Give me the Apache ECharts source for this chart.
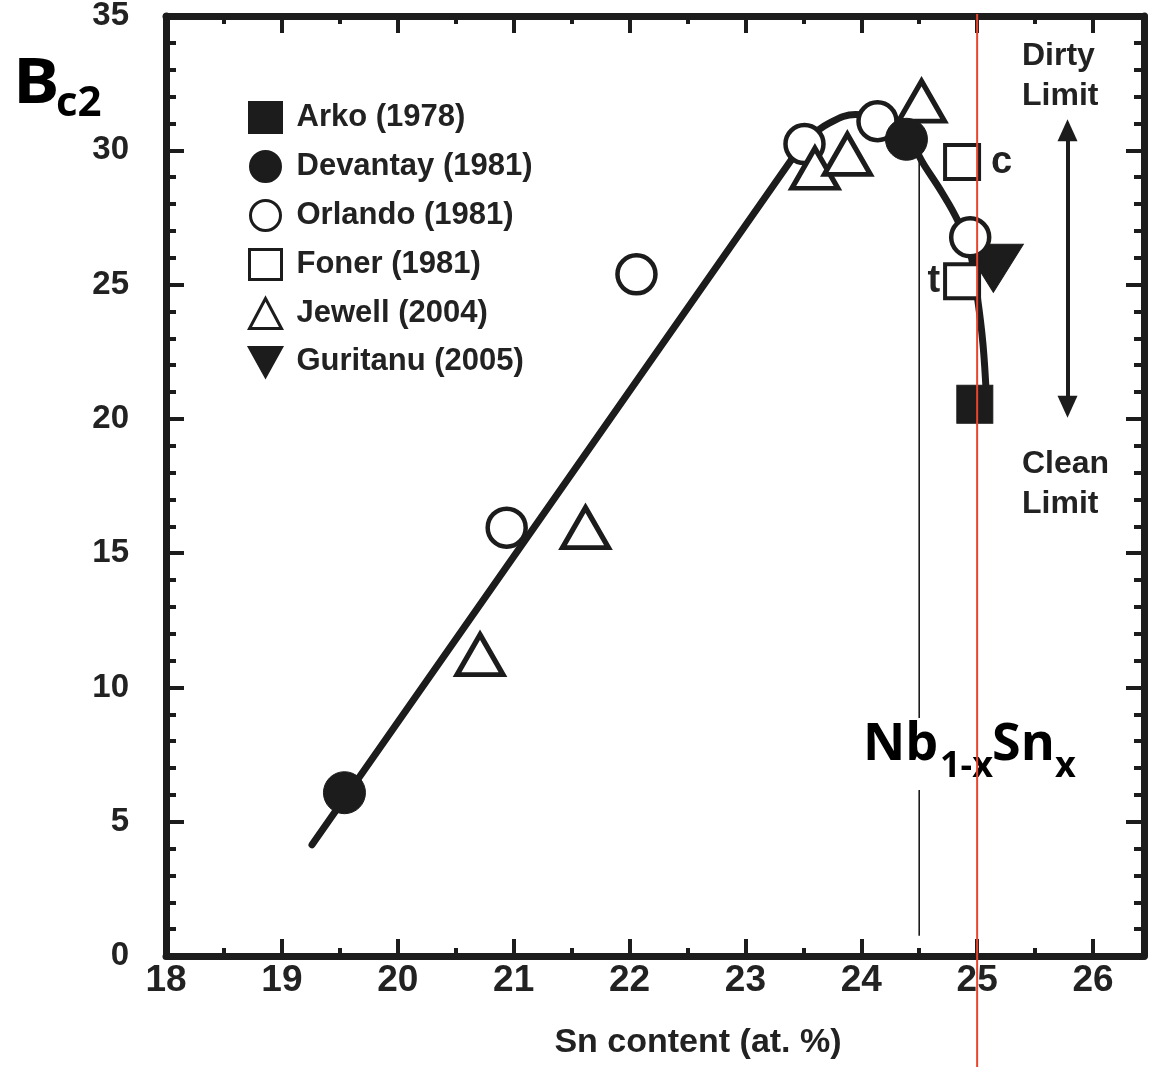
<!DOCTYPE html>
<html>
<head>
<meta charset="utf-8">
<title>Bc2 vs Sn content</title>
<script src="https://cdn.jsdelivr.net/npm/echarts@6.0.0/dist/echarts.min.js"></script>
<style>
  html, body { margin: 0; padding: 0; background: #ffffff; }
  #chart { width: 1157px; height: 1067px; }
</style>
</head>
<body>
<div id="chart"></div>
<script>
// Upper critical field Bc2 (T) of Nb1-xSnx versus Sn content (at. %)
const xTickLabels = [18, 19, 20, 21, 22, 23, 24, 25, 26];
const yTickLabels = [0, 5, 10, 15, 20, 25, 30, 35];
const xMax = 26.44;

const seriesNames = ['Arko (1978)', 'Devantay (1981)', 'Orlando (1981)', 'Foner (1981)', 'Jewell (2004)', 'Guritanu (2005)'];

const arko = [[24.98, 20.54]];
const devantay = [[19.54, 6.08], [24.39, 30.41]];
const orlando = [[20.94, 15.95], [22.06, 25.38], [23.51, 30.23], [24.14, 31.08], [24.94, 26.76]];
const foner = [[24.87, 29.56], [24.87, 25.12]];
const fonerTags = ['c', 't'];
const jewell = [[20.71, 11.22], [21.62, 15.95], [23.60, 29.33], [23.88, 29.85], [24.52, 31.83]];
const guritanu = [[25.14, 25.61]];

// guide curve: linear rise, then the rounded top and the steep drop near 25 at.%
const trendRise = [[19.26, 4.14], [23.40, 29.67]];
const trendTop = [[23.40, 29.67], [23.55, 30.45], [23.72, 31.0], [23.95, 31.33], [24.15, 31.25],
                  [24.39, 30.5], [24.55, 29.4], [24.70, 28.4], [24.83, 27.4], [24.94, 26.2],
                  [25.0, 24.6], [25.05, 22.8], [25.08, 20.8]];

// thin marker line at 24.5 at.% and the red line at stoichiometric 25 at.%
const marker245 = [[24.5, 29.7], [24.5, 0.75]];
const stoichX = 25;

// dirty / clean limit double arrow
const limitArrow = [[25.78, 30.75], [25.78, 20.45]];

const ink = '#1c1c1c';
const textInk = '#222222';
const sansBold = { fontFamily: 'Liberation Sans', fontWeight: 'bold', color: textInk };

const chart = echarts.init(document.getElementById('chart'), null, { renderer: 'canvas' });

const xBase = {
  type: 'value', min: xTickLabels[0], max: xMax, gridIndex: 0,
  splitLine: { show: false }, minorSplitLine: { show: false }
};
const frameLine = { show: true, onZero: false, lineStyle: { color: ink, width: 7 } };
const majorTick = { show: true, inside: true, length: 17, lineStyle: { color: ink, width: 4 } };
const minorTickX = { show: true, inside: true, length: 8, lineStyle: { color: ink, width: 4 } };

const yBase = {
  type: 'value', min: yTickLabels[0], max: yTickLabels[yTickLabels.length - 1], interval: 5,
  splitLine: { show: false }, minorSplitLine: { show: false },
  axisLine: frameLine,
  axisTick: { show: true, inside: true, length: 18, lineStyle: { color: ink, width: 4 } },
  minorTick: { show: true, splitNumber: 5, length: 10, lineStyle: { color: ink, width: 4 } }
};

const openStyle = { color: '#ffffff', borderColor: ink, borderWidth: 4.5, opacity: 1 };
const solidStyle = { color: ink, borderColor: ink, borderWidth: 1, opacity: 1 };

function scatter(name, data, symbol, size, style, extra) {
  return Object.assign({
    type: 'scatter', name: name, data: data, symbol: symbol, symbolSize: size,
    itemStyle: style, xAxisIndex: 0, yAxisIndex: 0, silent: true, z: 3,
    emphasis: { disabled: true }
  }, extra || {});
}

// legend entries; the Guritanu icon is a downward triangle
const legendData = seriesNames.map(n => (n === seriesNames[5]
  ? { name: n, icon: 'path://M0,0 L20,0 L10,18 Z' }
  : { name: n }));

const option = {
  backgroundColor: '#ffffff',
  animation: false,
  grid: { left: 166, right: 13, top: 16, bottom: 111, outerBoundsMode: 'none', containLabel: false },
  legend: {
    orient: 'vertical', left: 243, top: 96,
    itemWidth: 32, itemHeight: 30, itemGap: 16,
    selectedMode: false,
    data: legendData,
    itemStyle: { borderWidth: 3, opacity: 1 },
    textStyle: Object.assign({ fontSize: 31, padding: [0, 0, 0, 10] }, sansBold)
  },
  xAxis: [
    Object.assign({}, xBase, {
      position: 'bottom', interval: 1,
      axisLine: frameLine, axisTick: majorTick,
      axisLabel: Object.assign({
        show: true, margin: 6, fontSize: 37,
        formatter: v => (xTickLabels.indexOf(v) >= 0 ? String(v) : '')
      }, sansBold),
      name: 'Sn content (at. %)', nameLocation: 'middle', nameGap: 70,
      nameTextStyle: Object.assign({ fontSize: 34, padding: [0, 0, 0, 86] }, sansBold)
    }),
    Object.assign({}, xBase, {
      position: 'top', interval: 1,
      axisLine: frameLine, axisTick: majorTick, axisLabel: { show: false }
    }),
    Object.assign({}, xBase, {
      position: 'bottom', interval: 0.5,
      axisLine: { show: false, onZero: false }, axisTick: minorTickX, axisLabel: { show: false }
    }),
    Object.assign({}, xBase, {
      position: 'top', interval: 0.5,
      axisLine: { show: false, onZero: false }, axisTick: minorTickX, axisLabel: { show: false }
    })
  ],
  yAxis: [
    Object.assign({}, yBase, {
      position: 'left',
      axisLabel: Object.assign({ show: true, margin: 37, fontSize: 33 }, sansBold)
    }),
    Object.assign({}, yBase, { position: 'right', axisLabel: { show: false } })
  ],
  series: [
    {
      type: 'line', name: 'marker 24.5', data: marker245, symbol: 'none', silent: true, z: 1,
      lineStyle: { color: ink, width: 1.6 }, emphasis: { disabled: true }
    },
    {
      type: 'line', name: 'trend rise', data: trendRise, symbol: 'none', silent: true, z: 2,
      lineStyle: { color: ink, width: 7, cap: 'round' }, emphasis: { disabled: true }
    },
    {
      type: 'line', name: 'trend top', data: trendTop, symbol: 'none', smooth: 0.4, silent: true, z: 2,
      lineStyle: { color: ink, width: 7, cap: 'round', join: 'round' }, emphasis: { disabled: true },
      markLine: {
        silent: true, animation: false,
        symbol: ['triangle', 'triangle'], symbolSize: [20, 22],
        lineStyle: { color: ink, width: 4, type: 'solid' },
        label: { show: false },
        emphasis: { disabled: true },
        data: [[{ coord: limitArrow[0] }, { coord: limitArrow[1] }]]
      }
    },
    scatter(seriesNames[5], guritanu, 'triangle', [60, 48], solidStyle, { symbolRotate: 180 }),
    scatter(seriesNames[0], arko, 'rect', [36, 38], solidStyle),
    scatter(seriesNames[2], orlando, 'circle', 38, openStyle),
    scatter(seriesNames[4], jewell, 'triangle', [46, 40], Object.assign({}, openStyle, { borderWidth: 5 })),
    scatter(seriesNames[3], foner.map((p, i) => ({
      value: p,
      label: {
        show: true, formatter: fonerTags[i],
        position: i === 0 ? 'right' : 'left', distance: i === 0 ? 10 : 3,
        fontSize: 38, fontFamily: 'Liberation Sans', fontWeight: 'bold', color: textInk
      }
    })), 'rect', 34, Object.assign({}, openStyle, { borderWidth: 4 })),
    scatter(seriesNames[1], devantay, 'circle', 42, solidStyle)
  ]
};

chart.setOption(option);

// overlay texts and the stoichiometry line, placed through the axis scales
const redX = chart.convertToPixel({ xAxisIndex: 0 }, stoichX);
const topY = chart.convertToPixel({ yAxisIndex: 0 }, yTickLabels[yTickLabels.length - 1]);
const formulaFont = '"Open Sans", "Noto Sans", sans-serif';

chart.setOption({
  graphic: [
    { type: 'text', x: 13, y: 85, z: 60, scaleX: 1.1,
      style: { text: 'B', fontSize: 63, fontWeight: 'bold', fontFamily: formulaFont, fill: '#000', verticalAlign: 'middle' } },
    { type: 'text', x: 56, y: 104, z: 60,
      style: { text: 'c2', fontSize: 42, fontWeight: 'bold', fontFamily: formulaFont, fill: '#000', verticalAlign: 'middle' } },

    { type: 'text', x: 1022, y: 36, z: 60,
      style: { text: 'Dirty\nLimit', fontSize: 32, lineHeight: 40, fontWeight: 'bold', fontFamily: 'Liberation Sans', fill: textInk, verticalAlign: 'top' } },
    { type: 'text', x: 1022, y: 444, z: 60,
      style: { text: 'Clean\nLimit', fontSize: 32, lineHeight: 40, fontWeight: 'bold', fontFamily: 'Liberation Sans', fill: textInk, verticalAlign: 'top' } },

    { type: 'rect', z: 50, shape: { x: 858, y: 718, width: 222, height: 72 }, style: { fill: '#ffffff' } },
    { type: 'text', x: 863, y: 745, z: 60,
      style: { text: 'Nb', fontSize: 52, fontWeight: 'bold', fontFamily: formulaFont, fill: '#000', verticalAlign: 'middle' } },
    { type: 'text', x: 940, y: 767, z: 60,
      style: { text: '1-x', fontSize: 36, fontWeight: 'bold', fontFamily: formulaFont, fill: '#000', verticalAlign: 'middle' } },
    { type: 'text', x: 992, y: 745, z: 60,
      style: { text: 'Sn', fontSize: 52, fontWeight: 'bold', fontFamily: formulaFont, fill: '#000', verticalAlign: 'middle' } },
    { type: 'text', x: 1055, y: 767, z: 60,
      style: { text: 'x', fontSize: 36, fontWeight: 'bold', fontFamily: formulaFont, fill: '#000', verticalAlign: 'middle' } },

    { type: 'line', z: 100, silent: true,
      shape: { x1: redX, y1: topY - 2, x2: redX, y2: 1067 },
      style: { stroke: '#e8452c', lineWidth: 2 } }
  ]
});
</script>
</body>
</html>
